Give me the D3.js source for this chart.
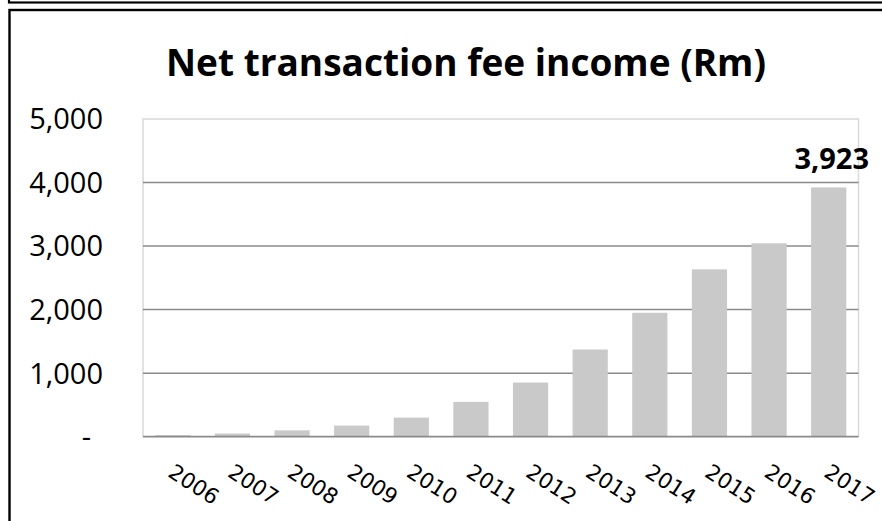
<!DOCTYPE html>
<html>
<head>
<meta charset="utf-8">
<script src="https://cdn.jsdelivr.net/npm/d3@7"></script>
<style>
  html, body { margin: 0; padding: 0; background: #fff; }
  svg { display: block; }
</style>
</head>
<body>
<svg id="chart" width="882" height="521"></svg>
<script>
// Net transaction fee income, Rand millions
const years = ["2006", "2007", "2008", "2009", "2010", "2011", "2012", "2013", "2014", "2015", "2016", "2017"];
const income = [25, 50, 100, 175, 300, 548, 852, 1372, 1950, 2634, 3044, 3923];
const yTicks = [0, 1000, 2000, 3000, 4000, 5000];
const yTickLabels = ["-", "1,000", "2,000", "3,000", "4,000", "5,000"];
const titleText = "Net transaction fee income (Rm)";
const labelledYear = "2017";

const svg = d3.select("#chart");
const plot = { left: 143, right: 858.5, top: 119, bottom: 436.7 };

// Frames around the chart
svg.append("rect")
  .attr("x", 9).attr("y", -20).attr("width", 900).attr("height", 22.5)
  .attr("fill", "none").attr("stroke", "#000").attr("stroke-width", 2.2);
svg.append("rect")
  .attr("x", 9.5).attr("y", 10).attr("width", 900).attr("height", 600)
  .attr("fill", "none").attr("stroke", "#000").attr("stroke-width", 2.4);

const x = d3.scaleBand().domain(years).range([plot.left, plot.right]).paddingInner(0.41).paddingOuter(0.205);
const y = d3.scaleLinear().domain([0, 5000]).range([plot.bottom, plot.top]);

// Title
svg.append("text")
  .attr("x", 466).attr("y", 76)
  .attr("text-anchor", "middle")
  .attr("font-family", "'Open Sans', sans-serif")
  .attr("font-weight", "bold")
  .attr("font-size", 37)
  .attr("fill", "#000")
  .text(titleText);

// Plot area border
svg.append("path")
  .attr("d", `M${plot.left},${plot.bottom}V${plot.top}H${plot.right}V${plot.bottom}`)
  .attr("fill", "none").attr("stroke", "#d9d9d9").attr("stroke-width", 1.5);

// Gridlines
svg.append("g")
  .selectAll("line")
  .data(yTicks.filter(d => d > 0 && d < 5000))
  .join("line")
  .attr("x1", plot.left).attr("x2", plot.right)
  .attr("y1", d => y(d)).attr("y2", d => y(d))
  .attr("stroke", "#8a8a8a").attr("stroke-width", 1.5);

// Bars
svg.append("g")
  .selectAll("rect")
  .data(years.map((yr, i) => ({ yr, v: income[i] })))
  .join("rect")
  .attr("x", d => x(d.yr))
  .attr("width", x.bandwidth())
  .attr("y", d => y(d.v))
  .attr("height", d => y(0) - y(d.v))
  .attr("fill", "#c9c9c9");

// Baseline
svg.append("line")
  .attr("x1", plot.left).attr("x2", plot.right)
  .attr("y1", y(0)).attr("y2", y(0))
  .attr("stroke", "#8a8a8a").attr("stroke-width", 1.8);

// Y axis labels
const yAxis = d3.axisLeft(y)
  .tickValues(yTicks)
  .tickFormat((d, i) => yTickLabels[i])
  .tickSize(0)
  .tickPadding(40);
const gy = svg.append("g").attr("transform", `translate(${plot.left},0)`).call(yAxis);
gy.select(".domain").remove();
gy.selectAll("text")
  .attr("font-family", "'Open Sans', sans-serif")
  .attr("font-size", 29)
  .attr("fill", "#000")
  .attr("dx", d => d === 0 ? -12 : 0)
  .attr("dy", "0.34em");

// X axis labels, rotated
const xAxis = d3.axisBottom(x).tickSize(0).tickPadding(0);
const gx = svg.append("g").attr("transform", `translate(0,${plot.bottom})`).call(xAxis);
gx.select(".domain").remove();
gx.selectAll("text")
  .attr("font-family", "'DejaVu Sans', sans-serif")
  .attr("font-size", 21.5)
  .attr("fill", "#000")
  .attr("text-anchor", "start")
  .attr("y", 0).attr("dy", 0)
  .attr("transform", "translate(-6,39) rotate(33)");

// Value label on the last bar
const lastIdx = years.indexOf(labelledYear);
svg.append("text")
  .attr("x", x(labelledYear) + x.bandwidth() / 2 + 3)
  .attr("y", y(income[lastIdx]) - 18)
  .attr("text-anchor", "middle")
  .attr("font-family", "'Open Sans', sans-serif")
  .attr("font-weight", "bold")
  .attr("font-size", 29)
  .attr("fill", "#000")
  .text(d3.format(",")(income[lastIdx]));
</script>
</body>
</html>
